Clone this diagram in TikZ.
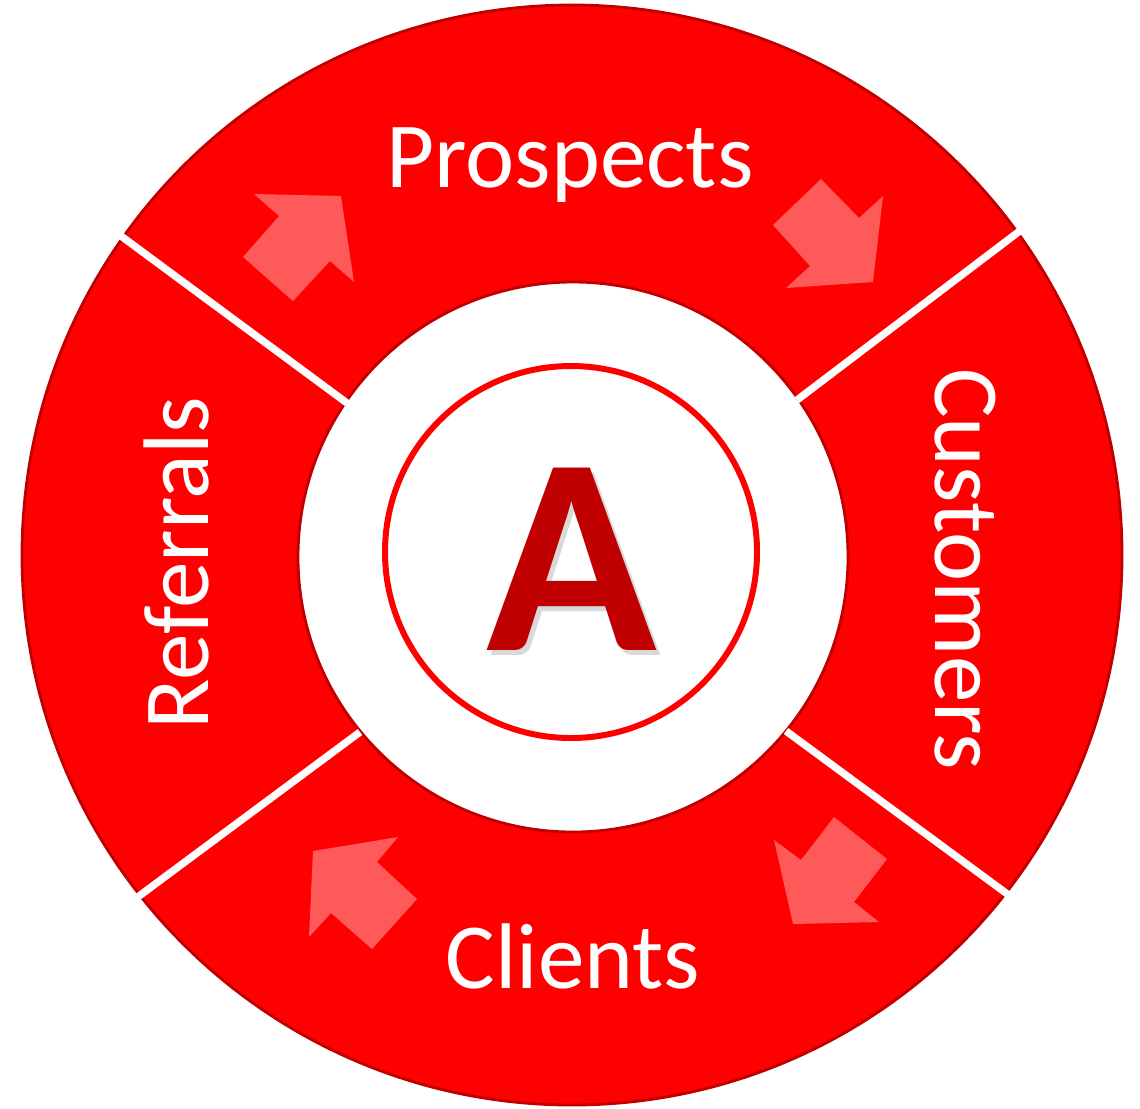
\documentclass[tikz,border=0pt]{standalone}
\usepackage{fontspec}
\setmainfont{Carlito}
\usetikzlibrary{positioning}
\definecolor{ringred}{RGB}{255,0,0}
\definecolor{edgered}{RGB}{192,0,0}
\definecolor{pale}{RGB}{255,90,90}
\definecolor{letterred}{RGB}{192,0,0}

\begin{document}
\begin{tikzpicture}[x=0.01cm,y=-0.01cm,ringlabel/.style={text=white,font=\fontsize{26.5}{26.5}\selectfont,inner sep=0pt,anchor=base},pointer/.style={fill=pale,draw=none},gap/.style={draw=white,line width=2.1pt,line cap=butt}]
\useasboundingbox (0,0) rectangle (1140,1108);
% ring
\fill[ringred,draw=edgered,line width=0.8pt] (572,555) circle[radius=550];
\fill[white,draw=edgered,line width=0.8pt] (573,557) circle[radius=275];
% gaps between the four segments
\draw[gap] (347,403) -- (121,236);
\draw[gap] (797,400) -- (1021,230);
\draw[gap] (360,732) -- (135,899);
\draw[gap] (786,731) -- (1010,896);
% arrows
\fill[pointer] (254,194) -- (341,196) -- (354,282) -- (330,261) -- (293,301) -- (243,257) -- (279,216) -- cycle;
\fill[pointer] (821,179) -- (859,218) -- (883,196) -- (873,282) -- (786,288) -- (810,266) -- (773,225) -- cycle;
\fill[pointer] (834,817) -- (887,859) -- (854,902) -- (879,922) -- (793,924) -- (774,840) -- (801,860) -- cycle;
\fill[pointer] (398,837) -- (313,851) -- (309,937) -- (331,913) -- (372,949) -- (417,899) -- (377,862) -- cycle;
% centre
\draw[ringred,fill=white,line width=1.7pt] (571,552) circle[radius=186];
\node[text=black,opacity=0.15,font=\fontsize{80}{80}\selectfont\bfseries,inner sep=0pt,anchor=base] (shadow) at (576,655) {A};
\node[text=letterred,font=\fontsize{80}{80}\selectfont\bfseries,inner sep=0pt,anchor=base] (letter) at (572,650) {A};
% labels
\node[ringlabel] (prospects) at (570,187) {Prospects};
\node[ringlabel,rotate=-90] (customers) at (935,569) {Customers};
\node[ringlabel] (clients) at (573,988) {Clients};
\node[ringlabel,rotate=90] (referrals) at (208,563) {Referrals};
\end{tikzpicture}
\end{document}
